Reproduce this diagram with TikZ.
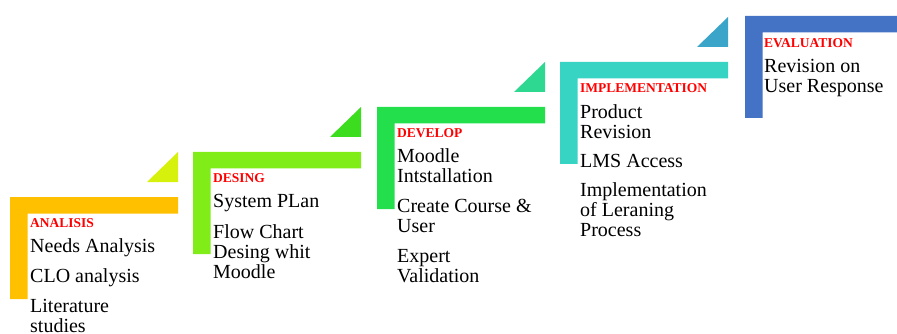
\documentclass[tikz,border=0pt]{standalone}
\usepackage{fontspec}
\setmainfont{Liberation Serif}
\usetikzlibrary{positioning}

\definecolor{analisisC}{HTML}{FFC000}
\definecolor{desingC}{HTML}{80EC18}
\definecolor{developC}{HTML}{24DF4C}
\definecolor{implementC}{HTML}{37D3C3}
\definecolor{evaluationC}{HTML}{4472C4}
\definecolor{tri1}{HTML}{D6F20C}
\definecolor{tri2}{HTML}{3CDD1E}
\definecolor{tri3}{HTML}{2ED890}
\definecolor{tri4}{HTML}{3AA5C8}

% title line is exactly 10pt high, so the node top sits 10pt above its baseline
\newcommand{\stagetitle}[1]{\rule{0pt}{10pt}{\color{red}\bfseries\fontsize{13.5}{13.5}\selectfont #1}}

\begin{document}
\begin{tikzpicture}[x=1pt, y=-1pt,
    steptext/.style={anchor=north west, inner sep=0pt, align=left,
                     font=\fontsize{20}{20}\selectfont}]

    \useasboundingbox (0,0) rectangle (897,334);

    % L-shaped steps
    \fill[analisisC]   (10,197)  -- ++(168,0) -- ++(0,16.5) -- ++(-150.5,0) -- ++(0,85.5) -- ++(-17.5,0) -- cycle;
    \fill[desingC]     (193,152) -- ++(168,0) -- ++(0,16.5) -- ++(-150.5,0) -- ++(0,85.5) -- ++(-17.5,0) -- cycle;
    \fill[developC]    (377,107) -- ++(168,0) -- ++(0,16.5) -- ++(-150.5,0) -- ++(0,85.5) -- ++(-17.5,0) -- cycle;
    \fill[implementC]  (560,62)  -- ++(168,0) -- ++(0,16.5) -- ++(-150.5,0) -- ++(0,85.5) -- ++(-17.5,0) -- cycle;
    \fill[evaluationC] (745,16)  -- ++(168,0) -- ++(0,16.5) -- ++(-150.5,0) -- ++(0,85.5) -- ++(-17.5,0) -- cycle;

    % small triangles
    \fill[tri1] (178,182) -- ++(0,-30) -- ++(-31,30) -- cycle;
    \fill[tri2] (361,137) -- ++(0,-30) -- ++(-31,30) -- cycle;
    \fill[tri3] (545,92)  -- ++(0,-30) -- ++(-31,30) -- cycle;
    \fill[tri4] (728,47)  -- ++(0,-30) -- ++(-31,30) -- cycle;

    \node[steptext] (analisis) at (30,217) {\stagetitle{ANALISIS}\\[5pt]
        Needs Analysis\\[10pt] CLO analysis\\[10pt] Literature\\ studies};
    \node[steptext] (desing) at (213,172) {\stagetitle{DESING}\\[5pt]
        System PLan\\[11pt] Flow Chart\\ Desing whit\\ Moodle};
    \node[steptext] (develop) at (397,127) {\stagetitle{DEVELOP}\\[5pt]
        Moodle\\ Intstallation\\[10pt] Create Course \&\\ User\\[10pt] Expert\\ Validation};
    \node[steptext] (implementation) at (580,82) {\stagetitle{IMPLEMENTATION}\\[6pt]
        Product\\ Revision\\[9pt] LMS Access\\[9pt] Implementation\\ of Leraning\\ Process};
    \node[steptext] (evaluation) at (764,37) {\stagetitle{EVALUATION}\\[5pt]
        Revision on\\ User Response};

\end{tikzpicture}
\end{document}
